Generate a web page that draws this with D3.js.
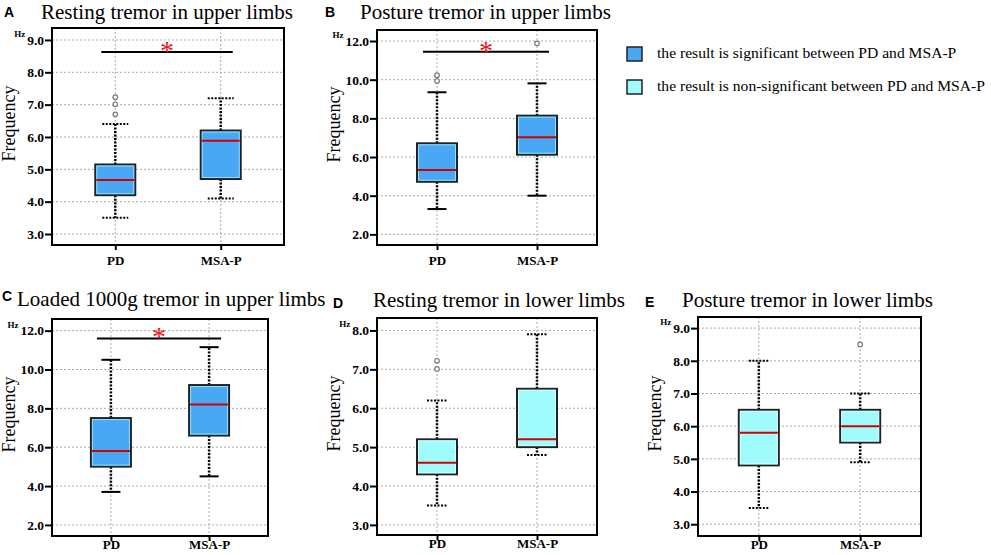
<!DOCTYPE html>
<html>
<head>
<meta charset="utf-8">
<script src="https://cdn.jsdelivr.net/npm/d3@7"></script>
<style>
  body { margin: 0; background: #fff; }
  svg { display: block; }
</style>
</head>
<body>
<svg id="chart"></svg>
<script>
// data
const groups = ["PD", "MSA-P"];
const panelLetters = ["A", "B", "C", "D", "E"];
const panelTitles = [
  "Resting tremor in upper limbs",
  "Posture tremor in upper limbs",
  "Loaded 1000g tremor in upper limbs",
  "Resting tremor in lower limbs",
  "Posture tremor in lower limbs"
];
const tickValues = [
  [3, 4, 5, 6, 7, 8, 9],
  [2, 4, 6, 8, 10, 12],
  [2, 4, 6, 8, 10, 12],
  [3, 4, 5, 6, 7, 8],
  [3, 4, 5, 6, 7, 8, 9]
];
const yDomains = [[2.66, 9.37], [1.45, 12.57], [1.43, 12.6], [2.74, 8.32], [2.64, 9.34]];
const whiskerLow = [[3.5, 4.1], [3.31, 4.0], [3.7, 4.5], [3.5, 4.8], [3.5, 4.9]];
const quartile1 = [[4.2, 4.7], [4.72, 6.12], [5.0, 6.6], [4.3, 5.0], [4.8, 5.5]];
const medians = [[4.67, 5.88], [5.33, 7.02], [5.8, 8.2], [4.6, 5.2], [5.8, 6.0]];
const quartile3 = [[5.15, 6.2], [6.71, 8.14], [7.5, 9.2], [5.2, 6.5], [6.5, 6.5]];
const whiskerHigh = [[6.4, 7.2], [9.35, 9.81], [10.5, 11.15], [6.2, 7.9], [8.0, 7.0]];
const outliers = [
  [[6.7, 7.01, 7.23], []],
  [[9.93, 10.23], [11.88]],
  [[], []],
  [[7.01, 7.22], []],
  [[], [8.5]]
];
const significant = [true, true, true, false, false];
const sigBarLevel = [8.63, 11.45, 11.6, null, null];
const legendLabels = [
  "the result is significant between PD and MSA-P",
  "the result is non-significant between PD and MSA-P"
];

// layout (pixels)
const width = 991, height = 555;
const frames = [
  { left: 52, top: 28, right: 284, bottom: 245, title: [41, 19], letter: [4, 17], xlab: 6, cap: 26 },
  { left: 377, top: 30, right: 597, bottom: 245, title: [360, 19], letter: [325, 17], xlab: 6, cap: 19 },
  { left: 52, top: 319, right: 268, bottom: 536, title: [17, 306], letter: [2, 301], xlab: -1, cap: 19 },
  { left: 377, top: 318, right: 597, bottom: 535, title: [373, 307], letter: [333, 308], xlab: -1, cap: 20 },
  { left: 698, top: 317, right: 921, bottom: 536, title: [682, 307], letter: [645, 307], xlab: -1, cap: 20 }
];
const solidCaps = [false, true, true, false, false];
const colorSig = "#49a8f4";
const colorNonSig = "#a0fcfc";
const serif = "'Liberation Serif', 'Times New Roman', serif";

const svg = d3.select("#chart").attr("width", width).attr("height", height);

panelTitles.forEach((title, p) => {
  const f = frames[p];
  const g = svg.append("g");

  const y = d3.scaleLinear().domain(yDomains[p]).range([f.bottom, f.top]);
  const x = d3.scalePoint().domain(groups).range([f.left, f.right]).padding(0.6);
  const fill = significant[p] ? colorSig : colorNonSig;

  // title and letter
  g.append("text")
    .attr("x", f.title[0]).attr("y", f.title[1])
    .style("font-family", serif).style("font-size", "21px")
    .text(title);
  g.append("text")
    .attr("x", f.letter[0]).attr("y", f.letter[1])
    .style("font-family", "'Liberation Sans', Arial, sans-serif")
    .style("font-size", "14px").style("font-weight", "bold")
    .text(panelLetters[p]);

  // grid
  g.append("g").selectAll("line.h")
    .data(tickValues[p])
    .join("line")
    .attr("x1", f.left).attr("x2", f.right)
    .attr("y1", d => y(d)).attr("y2", d => y(d))
    .attr("stroke", "#aaa").attr("stroke-width", 1).attr("stroke-dasharray", "2,2");
  g.append("g").selectAll("line.v")
    .data(groups)
    .join("line")
    .attr("x1", d => x(d)).attr("x2", d => x(d))
    .attr("y1", f.top).attr("y2", f.bottom)
    .attr("stroke", "#aaa").attr("stroke-width", 1).attr("stroke-dasharray", "2,2");

  // axes
  const yAxis = g.append("g")
    .attr("transform", `translate(${f.left},0)`)
    .call(d3.axisLeft(y).tickValues(tickValues[p]).tickFormat(d3.format(".1f")).tickSize(7).tickPadding(1));
  yAxis.select(".domain").remove();
  yAxis.selectAll(".tick line").attr("stroke", "#000").attr("stroke-width", 2);
  yAxis.selectAll(".tick text")
    .style("font-family", serif).style("font-size", "13.5px").style("font-weight", "bold")
    .attr("fill", "#000");

  const xAxis = g.append("g")
    .attr("transform", `translate(0,${f.bottom})`)
    .call(d3.axisBottom(x).tickSize(5).tickPadding(f.xlab));
  xAxis.select(".domain").remove();
  xAxis.selectAll(".tick line").attr("stroke", "#000").attr("stroke-width", 2);
  xAxis.selectAll(".tick text")
    .style("font-family", serif).style("font-size", "13px").style("font-weight", "bold")
    .attr("fill", "#000");

  // "Hz" next to the top tick label
  const topTick = yAxis.selectAll(".tick text").nodes().pop();
  const tb = topTick.getBBox();
  const topVal = tickValues[p][tickValues[p].length - 1];
  g.append("text")
    .attr("x", f.left + tb.x - 2)
    .attr("y", y(topVal) - 3)
    .attr("text-anchor", "end")
    .style("font-family", serif).style("font-size", "9px").style("font-weight", "bold")
    .text("Hz");

  // y label
  g.append("text")
    .attr("transform", `translate(${f.left - 37},${(f.top + f.bottom) / 2 - 13}) rotate(-90)`)
    .attr("text-anchor", "middle")
    .style("font-family", serif).style("font-size", "18px")
    .text("Frequency");

  // boxes
  const boxW = 40;
  const boxes = groups.map((name, i) => ({
    name,
    lo: whiskerLow[p][i], q1: quartile1[p][i], med: medians[p][i],
    q3: quartile3[p][i], hi: whiskerHigh[p][i], out: outliers[p][i]
  }));

  const dotted = solidCaps[p] ? null : "2,1.5";
  const bx = g.append("g").selectAll("g").data(boxes).join("g");

  bx.append("line")
    .attr("x1", d => x(d.name)).attr("x2", d => x(d.name))
    .attr("y1", d => y(d.q3)).attr("y2", d => y(d.hi))
    .attr("stroke", "#000").attr("stroke-width", 2.5).attr("stroke-dasharray", "2,1.5");
  bx.append("line")
    .attr("x1", d => x(d.name)).attr("x2", d => x(d.name))
    .attr("y1", d => y(d.q1)).attr("y2", d => y(d.lo))
    .attr("stroke", "#000").attr("stroke-width", 2.5).attr("stroke-dasharray", "2,1.5");

  ["lo", "hi"].forEach(k => {
    bx.append("line")
      .attr("x1", d => x(d.name) - f.cap / 2).attr("x2", d => x(d.name) + f.cap / 2)
      .attr("y1", d => y(d[k])).attr("y2", d => y(d[k]))
      .attr("stroke", "#000").attr("stroke-width", 2)
      .attr("stroke-dasharray", dotted);
  });

  bx.append("rect")
    .attr("x", d => x(d.name) - boxW / 2)
    .attr("y", d => y(d.q3))
    .attr("width", boxW)
    .attr("height", d => y(d.q1) - y(d.q3))
    .attr("fill", fill).attr("stroke", "#222").attr("stroke-width", 2);
  // thin light edge just inside the border
  bx.append("rect")
    .attr("x", d => x(d.name) - boxW / 2 + 1.5)
    .attr("y", d => y(d.q3) + 1.5)
    .attr("width", boxW - 3)
    .attr("height", d => y(d.q1) - y(d.q3) - 3)
    .attr("fill", "none").attr("stroke", significant[p] ? "#8fe0ff" : "#d8ffff").attr("stroke-width", 1);

  bx.append("line")
    .attr("x1", d => x(d.name) - boxW / 2 + 1).attr("x2", d => x(d.name) + boxW / 2 - 1)
    .attr("y1", d => y(d.med)).attr("y2", d => y(d.med))
    .attr("stroke", "#d00000").attr("stroke-width", 2);

  bx.selectAll("circle")
    .data(d => d.out.map(v => ({ name: d.name, v })))
    .join("circle")
    .attr("cx", d => x(d.name)).attr("cy", d => y(d.v)).attr("r", 2.3)
    .attr("fill", "#fff").attr("stroke", "#777").attr("stroke-width", 1.2);

  // frame
  g.append("rect")
    .attr("x", f.left).attr("y", f.top)
    .attr("width", f.right - f.left).attr("height", f.bottom - f.top)
    .attr("fill", "none").attr("stroke", "#000").attr("stroke-width", 2);

  // significance bar
  if (sigBarLevel[p] != null) {
    const yb = y(sigBarLevel[p]);
    const x0 = x(groups[0]) - 14, x1 = x(groups[1]) + 12;
    g.append("line")
      .attr("x1", x0).attr("x2", x1).attr("y1", yb).attr("y2", yb)
      .attr("stroke", "#000").attr("stroke-width", 2);
    g.append("text")
      .attr("x", (x0 + x1) / 2).attr("y", yb + 8)
      .attr("text-anchor", "middle")
      .attr("fill", "#f01010")
      .style("font-family", serif).style("font-size", "28px")
      .text("*");
  }
});

// legend
const legend = svg.append("g").selectAll("g")
  .data(legendLabels)
  .join("g")
  .attr("transform", (d, i) => `translate(627,${47 + i * 33})`);
legend.append("rect")
  .attr("width", 15).attr("height", 14)
  .attr("fill", (d, i) => i === 0 ? colorSig : colorNonSig)
  .attr("stroke", "#222").attr("stroke-width", 1.5);
legend.append("text")
  .attr("x", 30).attr("y", 11)
  .style("font-family", serif).style("font-size", "15.6px")
  .text(d => d);
</script>
</body>
</html>
